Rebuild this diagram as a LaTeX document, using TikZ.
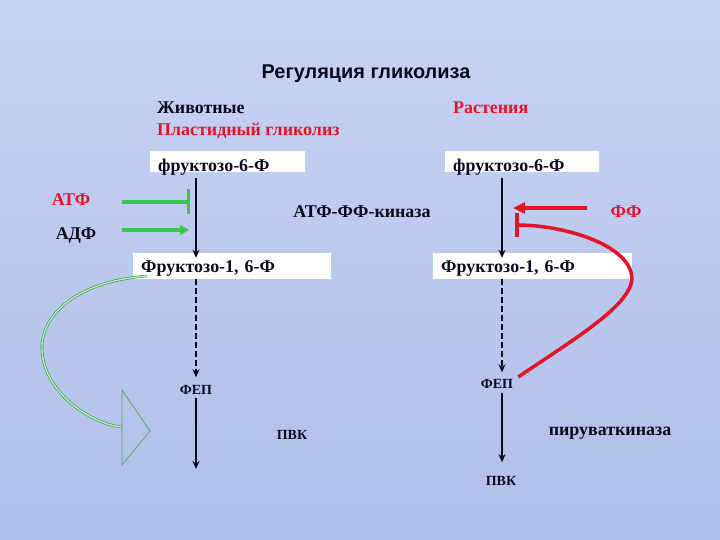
\documentclass[tikz,border=0pt]{standalone}
\usepackage{fontspec}
\setmainfont{Liberation Serif}
\setsansfont{Liberation Sans}
\usetikzlibrary{arrows.meta}
\definecolor{bgtop}{RGB}{200,211,242}
\definecolor{bgbot}{RGB}{176,191,234}
\definecolor{inkred}{RGB}{228,20,40}
\definecolor{leafgreen}{RGB}{60,196,80}
\definecolor{ink}{RGB}{10,10,30}
\tikzset{
  lbl/.style={font=\bfseries\fontsize{18}{20}\selectfont, text=ink, inner sep=0pt},
  smalllbl/.style={font=\bfseries\fontsize{14}{16}\selectfont, text=ink, inner sep=0pt},
  box/.style={lbl, fill=white, inner xsep=8bp, inner ysep=0pt, align=left, anchor=west},
  flow/.style={-{Stealth[length=8bp,width=7bp]}, line width=1.2bp, draw=ink},
  greenstop/.style={-{Bar[width=25bp]}, line width=3.5bp, draw=leafgreen},
  greenpush/.style={-{Triangle[length=9bp,width=10bp]}, line width=3.5bp, draw=leafgreen},
  redpush/.style={-{Triangle[length=12bp,width=11bp]}, line width=4bp, draw=inkred},
  redstop/.style={-{Bar[width=24bp]}, line width=3.5bp, draw=inkred},
  hollow/.style={draw=leafgreen!80!black, line width=0.6bp, double=leafgreen!35!white, double distance=1.4bp}
}
\begin{document}
\begin{tikzpicture}[x=1bp, y=-1bp]
  \useasboundingbox (0,0) rectangle (720,540);
  \shade[top color=bgtop, bottom color=bgbot] (0,0) rectangle (720,540);

  % headings
  \node[lbl, font=\sffamily\bfseries\fontsize{20}{22}\selectfont] (title) at (366,74) {Регуляция гликолиза};
  \node[lbl, anchor=west] (animals) at (157,108) {Животные};
  \node[lbl, anchor=west, text=inkred] (plastid) at (157,131) {Пластидный гликолиз};
  \node[lbl, anchor=west, text=inkred] (plants) at (453,108) {Растения};

  % substrates
  \node[box, text width=139bp, text height=20bp, text depth=1bp] (f6pA) at (150,162) {фруктозо-6-Ф};
  \node[box, text width=138bp, text height=20bp, text depth=1bp] (f6pB) at (445,162) {фруктозо-6-Ф};
  \node[box, text width=182bp, text height=20bp, text depth=6bp] (f16pA) at (133,266) {Фруктозо-1, 6-Ф};
  \node[box, text width=183bp, text height=20bp, text depth=6bp] (f16pB) at (433,266) {Фруктозо-1, 6-Ф};
  \node[smalllbl] (pepA) at (196,390) {ФЕП};
  \node[smalllbl] (pepB) at (497,384) {ФЕП};
  \node[smalllbl] (pvkA) at (292,435) {ПВК};
  \node[smalllbl] (pvkB) at (501,481) {ПВК};

  % effectors and enzymes
  \node[lbl, text=inkred] (atp) at (71,200) {АТФ};
  \node[lbl] (adp) at (76,235) {АДФ};
  \node[lbl] (pfk) at (362,212) {АТФ-ФФ-киназа};
  \node[lbl, text=inkred] (ppi) at (626,212) {ФФ};
  \node[lbl] (pk) at (610,433) {пируваткиназа};

  \coordinate (axA) at (196,0);
  \coordinate (axB) at (502,0);
  \coordinate (endA) at (196,469);

  % pathway
  \draw[flow] ([yshift=-5bp]f6pA.south -| axA) -- ([yshift=-5bp]f16pA.north -| axA);
  \draw[flow, dash pattern=on 6bp off 3bp] (f16pA.south -| axA) -- ([yshift=8bp]pepA.north -| axA);
  \draw[flow] ([yshift=-3bp]pepA.south -| axA) -- (endA);
  \draw[flow] ([yshift=-5bp]f6pB.south -| axB) -- ([yshift=-5bp]f16pB.north -| axB);
  \draw[flow, dash pattern=on 6bp off 3bp] (f16pB.south -| axB) -- ([yshift=7bp]pepB.north -| axB);
  \draw[flow] ([yshift=-4bp]pepB.south -| axB) -- ([yshift=14bp]pvkB.north -| axB);

  % animal regulation
  \coordinate (atpTail) at (122,202);
  \coordinate (atpHit) at (190,202);
  \coordinate (adpTail) at (122,230);
  \coordinate (adpHit) at (189,230);
  \draw[greenstop] (atpTail) -- (atpHit);
  \draw[greenpush] (adpTail) -- (adpHit);
  \coordinate (loopStart) at (147,276);
  \coordinate (loopEnd) at (122,427);
  \draw[hollow] (loopStart) .. controls (70,282) and (40,320) .. (42,350)
    .. controls (44,395) and (95,425) .. (loopEnd);
  \draw[draw=leafgreen!60!gray, line width=0.8bp] (122,390) -- (150,431) -- (122,465) -- cycle;

  % plant regulation
  \coordinate (ppiTail) at (587,208);
  \coordinate (ppiHit) at (513,208);
  \coordinate (pepHit) at (515,225);
  \draw[redpush] (ppiTail) -- (ppiHit);
  \draw[redstop] ([xshift=5bp, yshift=7bp]pepB.east) .. controls (580,335) and (640,300) .. (631,272)
    .. controls (622,242) and (560,225) .. (pepHit);
\end{tikzpicture}
\end{document}
